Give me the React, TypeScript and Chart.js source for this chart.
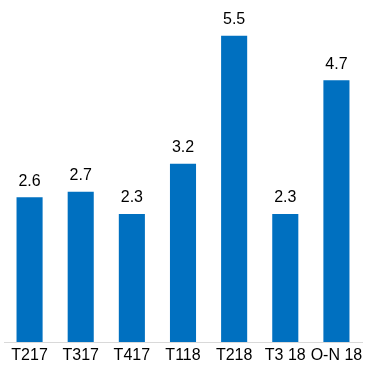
import React, { useEffect, useRef } from "react";
import { Chart, registerables } from "chart.js";

Chart.register(...registerables);

const categories = ["T217", "T317", "T417", "T118", "T218", "T3 18", "O-N 18"];
const values = [2.6, 2.7, 2.3, 3.2, 5.5, 2.3, 4.7];
const yMax = 6;

const FONT = "'Liberation Sans', Arial, sans-serif";

const labelPlugin = {
  id: "barLabels",
  afterDatasetsDraw(chart: any) {
    const ctx = chart.ctx;
    const meta = chart.getDatasetMeta(0);
    ctx.save();
    ctx.font = `16px ${FONT}`;
    ctx.fillStyle = "#000000";
    ctx.textAlign = "center";
    ctx.textBaseline = "middle";
    meta.data.forEach((bar: any, i: number) => {
      ctx.fillText(values[i].toFixed(1), bar.x, bar.y - 16);
    });
    ctx.restore();
  },
};

export default function App() {
  const ref = useRef<HTMLCanvasElement>(null);
  useEffect(() => {
    document.body.style.margin = "0";
    const chart = new Chart(ref.current!, {
      type: "bar",
      data: {
        labels: categories,
        datasets: [
          {
            data: values,
            backgroundColor: "#0070C0",
            categoryPercentage: 1,
            barPercentage: 0.51,
          },
        ],
      },
      options: {
        responsive: false,
        animation: false,
        layout: { padding: { top: 8, left: 4, right: 3, bottom: 0 } },
        plugins: { legend: { display: false }, tooltip: { enabled: false } },
        scales: {
          x: {
            grid: { display: false, drawTicks: false },
            border: { display: true, color: "#D9D9D9", width: 1 },
            ticks: { color: "#000000", font: { family: FONT, size: 16 }, padding: 4, maxRotation: 0, autoSkip: false },
            afterFit: (scale: any) => {
              scale.height = 31;
              scale.paddingLeft = 0;
              scale.paddingRight = 0;
            },
          },
          y: { display: false, min: 0, max: yMax },
        },
      },
      plugins: [labelPlugin],
    });
    return () => chart.destroy();
  }, []);
  return (
    <div style={{ width: 365, height: 373 }}>
      <canvas ref={ref} width={365} height={373} style={{ display: "block" }} />
    </div>
  );
}
